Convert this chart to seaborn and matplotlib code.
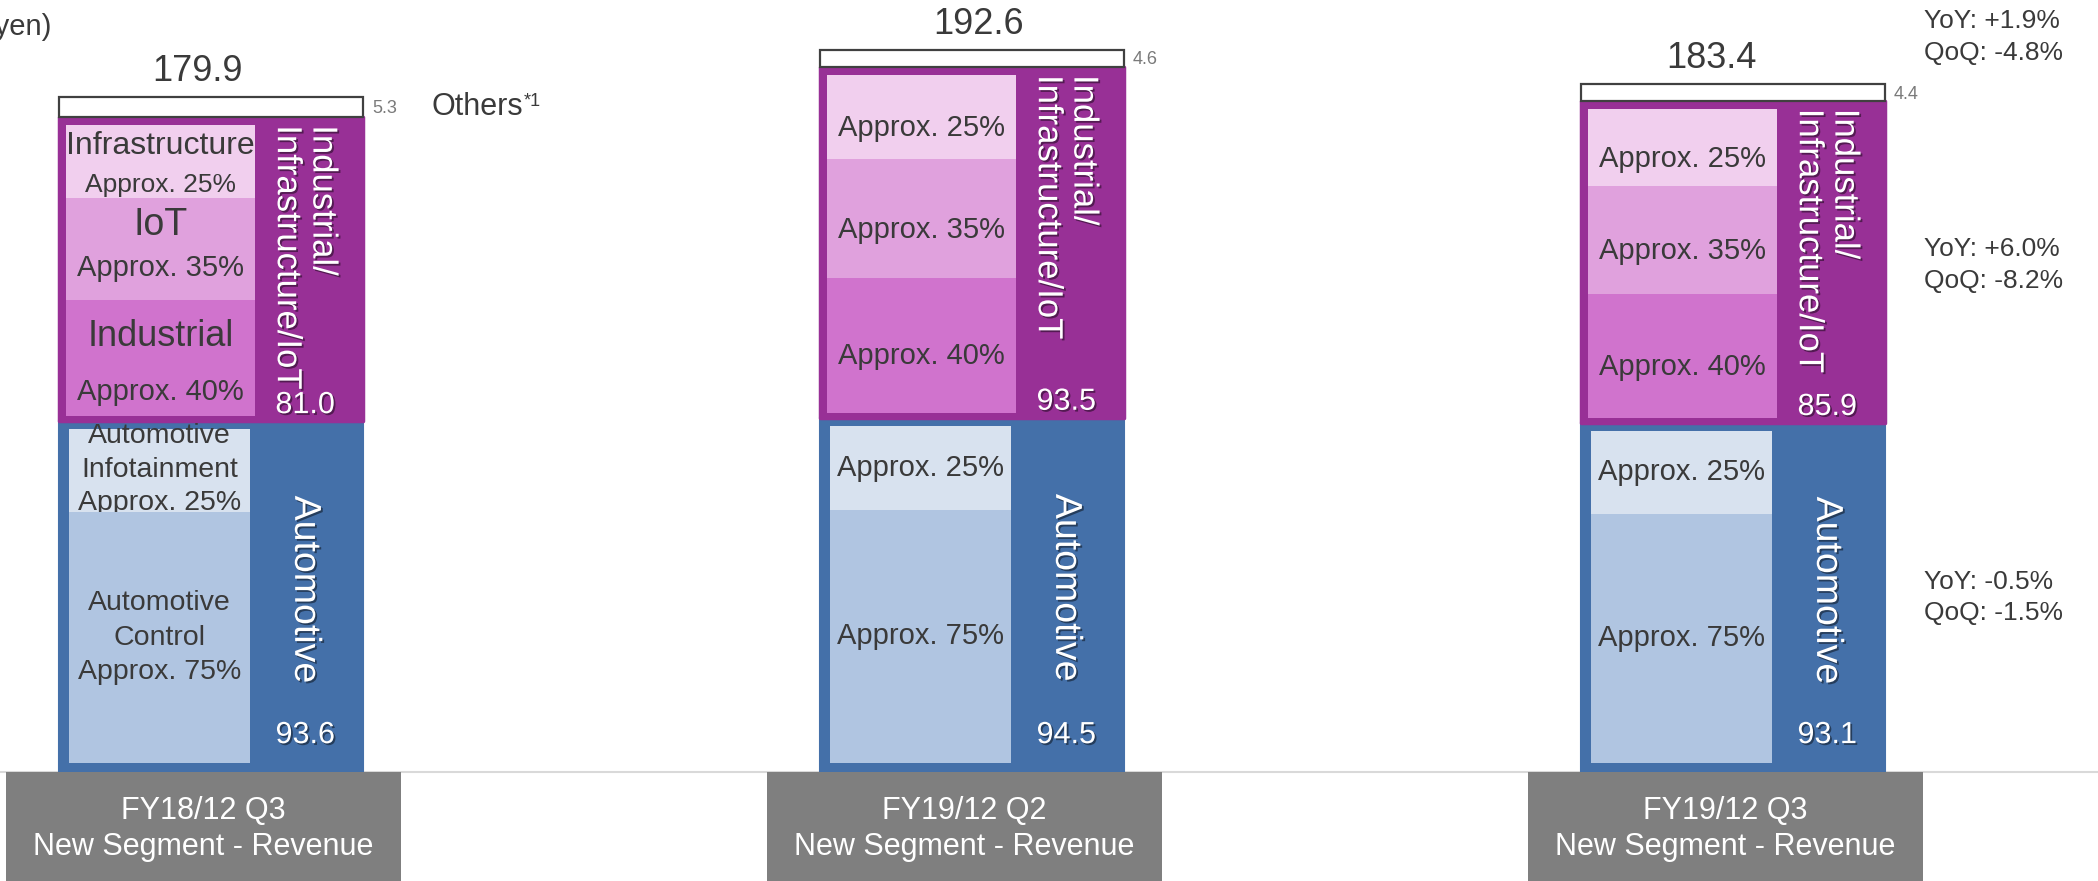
import matplotlib
matplotlib.use("Agg")
import matplotlib.pyplot as plt
import matplotlib.patheffects as pe
from matplotlib.patches import Rectangle
import numpy as np
import pandas as pd
import seaborn as sns

# ---- data (billion yen) ----
periods = ["FY18/12 Q3", "FY19/12 Q2", "FY19/12 Q3"]
period_caption = "New Segment - Revenue"
automotive = [93.6, 94.5, 93.1]
industrial_iot = [81.0, 93.5, 85.9]
others = [5.3, 4.6, 4.4]
totals = [179.9, 192.6, 183.4]

auto_segments = ["Automotive Control", "Automotive Infotainment"]
auto_shares = [75, 25]
iiot_segments = ["Industrial", "IoT", "Infrastructure"]
iiot_shares = [40, 35, 25]

growth_total = ["YoY: +1.9%", "QoQ: -4.8%"]
growth_iiot = ["YoY: +6.0%", "QoQ: -8.2%"]
growth_auto = ["YoY: -0.5%", "QoQ: -1.5%"]

unit_label = "(Billion yen)"
others_label = "Others"
others_note = "*1"
auto_name = "Automotive"
iiot_name = "Industrial/\nInfrastructure/IoT"

# ---- colours ----
BLUE = "#4470A9"
BLUE_CTRL = "#B0C5E1"
BLUE_INFO = "#D8E2EF"
PURPLE = "#983096"
PINK = ["#D073CD", "#E0A1DD", "#F1CFEE"]
DARK = "#3A3A3A"
GREY_BOX = "#7F7F7F"

df = pd.DataFrame({
    "period": periods,
    "automotive": automotive,
    "industrial_iot": industrial_iot,
    "others": others,
})
auto_arr = np.array(automotive)
iiot_arr = np.array(industrial_iot)

sns.set_theme(style="white")
plt.rcParams["font.family"] = ["Liberation Sans", "DejaVu Sans"]

fig = plt.figure(figsize=(20.98, 8.81), dpi=100)
ax = fig.add_axes([0, 0, 1, 1])

BAR_W = 0.40
common = dict(x="period", width=BAR_W, saturation=1, errorbar=None, ax=ax)

sns.barplot(data=df, y="automotive", color=BLUE, edgecolor=BLUE, linewidth=1.5, **common)
sns.barplot(data=df, y="industrial_iot", bottom=auto_arr, color=PURPLE,
            edgecolor=PURPLE, linewidth=2.5, joinstyle="round", **common)
sns.barplot(data=df, y="others", bottom=auto_arr + iiot_arr, color="white",
            edgecolor="#404040", linewidth=1.6, **common)

auto_bars, iiot_bars, other_bars = ax.containers[0], ax.containers[1], ax.containers[2]

YMIN, YMAX = -29.07, 205.87
ax.set_ylim(YMIN, YMAX)
ax.set_xlim(-0.277, 2.480)
ax.axis("off")

PXY = (YMAX - YMIN) / 881.0          # data units per pixel, vertical
PXX = (2.480 + 0.277) / 2098.0       # data units per pixel, horizontal

# small horizontal nudges of the total labels, in pixels
total_dx_px = [-13, 7, -21]

shadow = [pe.withSimplePatchShadow(offset=(1.3, -1.3), shadow_rgbFace="black", alpha=0.45)]

for i in range(len(periods)):
    ab = auto_bars[i]
    x0, w = ab.get_x(), ab.get_width()
    cx = x0 + w / 2
    a = automotive[i]
    p = industrial_iot[i]

    # --- automotive inner split ---
    ix0 = x0 + 0.035 * w
    iw = 0.595 * w
    ib = 9 * PXY
    it = a - 8 * PXY
    ih = it - ib
    ctrl_h = ih * auto_shares[0] / 100
    info_h = ih * auto_shares[1] / 100
    ax.add_patch(Rectangle((ix0, ib), iw, ctrl_h, facecolor=BLUE_CTRL, edgecolor="none", zorder=3))
    ax.add_patch(Rectangle((ix0, ib + ctrl_h), iw, info_h, facecolor=BLUE_INFO, edgecolor="none", zorder=2))
    icx = ix0 + iw / 2
    if i == 0:
        ax.text(icx, ib + ctrl_h / 2, auto_segments[0].replace(" ", "\n") + f"\nApprox. {auto_shares[0]}%",
                ha="center", va="center", fontsize=20.5, color=DARK, linespacing=1.42, zorder=4)
        ax.text(icx, ib + ctrl_h + info_h / 2 + 1 * PXY,
                auto_segments[1].replace(" ", "\n") + f"\nApprox. {auto_shares[1]}%",
                ha="center", va="center", fontsize=20.5, color=DARK, linespacing=1.38, zorder=2.5)
    else:
        ax.text(icx, ib + ctrl_h / 2, f"Approx. {auto_shares[0]}%", ha="center", va="center",
                fontsize=21, color=DARK, zorder=4)
        ax.text(icx, ib + ctrl_h + info_h / 2, f"Approx. {auto_shares[1]}%", ha="center", va="center",
                fontsize=21, color=DARK, zorder=4)

    # --- industrial / infrastructure / IoT inner split ---
    px0 = x0 + 0.025 * w
    pw = 0.62 * w
    pb = a + 5 * PXY
    pt = a + p - 8 * PXY
    ph = pt - pb
    y = pb
    name_fr = [0.68, 0.73, 0.71]
    appr_fr = [0.21, 0.31, 0.18]
    name_fs = [26, 27, 23]
    appr_fs = [21, 21, 19]
    pcx = px0 + pw / 2
    for k, (seg, share) in enumerate(zip(iiot_segments, iiot_shares)):
        h = ph * share / 100
        ax.add_patch(Rectangle((px0, y), pw, h, facecolor=PINK[k], edgecolor="none", zorder=2))
        if i == 0:
            ax.text(pcx, y + name_fr[k] * h, seg, ha="center", va="center",
                    fontsize=name_fs[k], color=DARK, zorder=4)
            ax.text(pcx, y + appr_fr[k] * h, f"Approx. {share}%", ha="center", va="center",
                    fontsize=appr_fs[k], color=DARK, zorder=4)
        else:
            ax.text(pcx, y + h / 2 - 3.0, f"Approx. {share}%", ha="center", va="center",
                    fontsize=21, color=DARK, zorder=4)
        y += h

    # --- vertical segment names and values ---
    sx = x0 + 0.81 * w
    ax.text(sx, a * 0.52, auto_name, rotation=-90, ha="center", va="center",
            fontsize=27, color="white", path_effects=shadow, zorder=5)
    ax.text(sx, a + p - 8 * PXY, iiot_name, rotation=-90, ha="center", va="top",
            multialignment="left", linespacing=1.1, fontsize=25, color="white",
            path_effects=shadow, zorder=5)
    ax.text(sx, 7.7, f"{a:.1f}", ha="center", va="baseline", fontsize=22,
            color="white", path_effects=shadow, zorder=5)
    ax.text(sx, a + 2.1, f"{p:.1f}", ha="center", va="baseline", fontsize=22,
            color="white", path_effects=shadow, zorder=5)

    # --- others value and total ---
    ax.text(x0 + w + 9 * PXX, a + p + others[i] / 2 - 0.4, f"{others[i]:.1f}",
            ha="left", va="center", fontsize=13, color="#7A7A7A")
    ax.text(cx + total_dx_px[i] * PXX, totals[i] + 4.3, f"{totals[i]:.1f}", ha="center",
            va="baseline", fontsize=26, color=DARK)

    # --- category caption box ---
    bx_w = 395 * PXX
    bcx = cx - 0.01
    ax.add_patch(Rectangle((bcx - bx_w / 2, YMIN), bx_w, -YMIN, facecolor=GREY_BOX,
                           edgecolor="none", zorder=3, clip_on=False))
    ax.text(bcx, -15.2, f"{periods[i]}\n{period_caption}", ha="center", va="center",
            fontsize=22, color="white", linespacing=1.22, zorder=4)

# baseline
ax.axhline(0, color="#D9D9D9", lw=1.5, zorder=0.5)

# "Others" legend text beside first bar
first = other_bars[0]
oth = ax.text(first.get_x() + first.get_width() + 69 * PXX,
              automotive[0] + industrial_iot[0] + others[0] / 2, others_label,
              ha="left", va="center", fontsize=22, color=DARK)
ax.annotate(others_note, xy=(1.0, 0.98), xycoords=oth, ha="left", va="top",
            fontsize=13, color=DARK)

# unit label (runs past the left edge)
ax.text(-0.210, 198.7, unit_label, ha="right", va="center", fontsize=21, color=DARK)

# growth rates for the latest quarter
gx = 2.252
gkw = dict(ha="left", va="center", fontsize=19, color=DARK, linespacing=1.38)
ax.text(gx, totals[2] + 12.6, "\n".join(growth_total), **gkw)
ax.text(gx, automotive[2] + industrial_iot[2] * 0.49, "\n".join(growth_iiot), **gkw)
ax.text(gx, automotive[2] * 0.5, "\n".join(growth_auto), **gkw)

fig.savefig("out.png", dpi=100)
